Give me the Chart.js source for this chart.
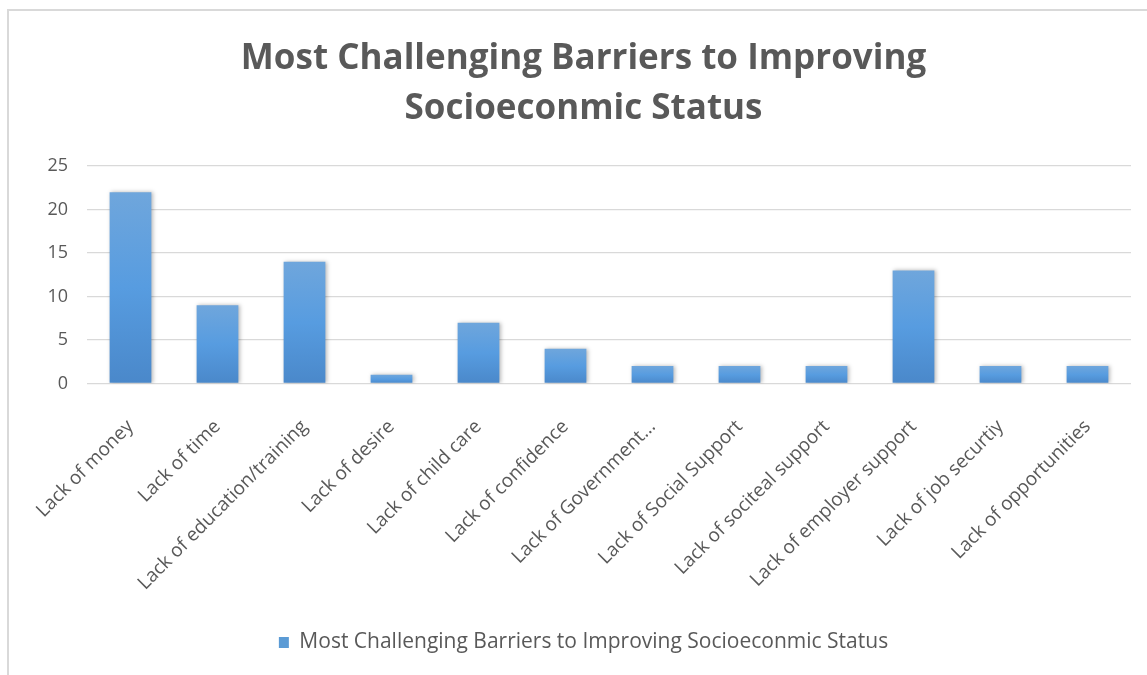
<!DOCTYPE html>
<html>
<head>
<meta charset="utf-8">
<script src="https://cdn.jsdelivr.net/npm/chart.js@4.4.1/dist/chart.umd.min.js"></script>
<style>
  html, body { margin: 0; padding: 0; background: #fff; }
  #wrap { position: relative; width: 1147px; height: 675px; overflow: hidden; }
  #frame { position: absolute; left: 7px; top: 9px; width: 1160px; height: 700px; border: 2px solid #d9d9d9; box-sizing: border-box; }
  canvas { position: absolute; left: 0; top: 0; }
</style>
</head>
<body>
<div id="wrap">
  <div id="frame"></div>
  <canvas id="c" width="1147" height="675"></canvas>
</div>
<script>
const titleLines = ["Most Challenging Barriers to Improving", "Socioeconmic Status"];
const seriesName = "Most Challenging Barriers to Improving Socioeconmic Status";
const categories = [
  "Lack of money",
  "Lack of time",
  "Lack of education/training",
  "Lack of desire",
  "Lack of child care",
  "Lack of confidence",
  "Lack of Government...",
  "Lack of Social Support",
  "Lack of sociteal support",
  "Lack of employer support",
  "Lack of job securtiy",
  "Lack of opportunities"
];
const values = [22, 9, 14, 1, 7, 4, 2, 2, 2, 13, 2, 2];
const yTicks = [0, 5, 10, 15, 20, 25];

const textColor = "#595959";
const gridColor = "#d9d9d9";

function barGradient(context) {
  const chart = context.chart;
  const area = chart.chartArea;
  if (!area || context.type !== "data") return "#5b9bd5";
  const yScale = chart.scales.y;
  const top = yScale.getPixelForValue(context.parsed.y);
  const bottom = yScale.getPixelForValue(0);
  if (!isFinite(top) || !isFinite(bottom) || top === bottom) return "#5b9bd5";
  const g = chart.ctx.createLinearGradient(0, top, 0, bottom);
  g.addColorStop(0, "#6fa6dc");
  g.addColorStop(0.5, "#579ce0");
  g.addColorStop(1, "#4a88ca");
  return g;
}

const shadowPlugin = {
  id: "barShadow",
  beforeDatasetsDraw(chart) {
    const ctx = chart.ctx;
    ctx.save();
    ctx.shadowColor = "rgba(0,0,0,0.28)";
    ctx.shadowBlur = 4;
    ctx.shadowOffsetX = 1.5;
    ctx.shadowOffsetY = 0;
  },
  afterDatasetsDraw(chart) {
    chart.ctx.restore();
  }
};

new Chart(document.getElementById("c"), {
  type: "bar",
  data: {
    labels: categories,
    datasets: [{
      label: seriesName,
      data: values,
      backgroundColor: barGradient,
      borderWidth: 0,
      categoryPercentage: 1,
      barPercentage: 0.48
    }]
  },
  plugins: [shadowPlugin],
  options: {
    responsive: false,
    animation: false,
    devicePixelRatio: 1,
    layout: { padding: { left: 36, right: 16, top: 10, bottom: 12 } },
    plugins: {
      title: {
        display: true,
        text: titleLines,
        color: textColor,
        font: { family: "'Open Sans', 'DejaVu Sans', sans-serif", size: 35, weight: "bold", lineHeight: 1.43 },
        padding: { top: 24, bottom: 32 }
      },
      legend: {
        display: true,
        position: "bottom",
        labels: {
          color: textColor,
          font: { family: "'Open Sans', sans-serif", size: 21 },
          boxWidth: 10,
          boxHeight: 11,
          padding: 8,
          generateLabels(chart) {
            return [{
              text: seriesName,
              fillStyle: "#5b9bd5",
              strokeStyle: "#5b9bd5",
              lineWidth: 0,
              fontColor: textColor,
              datasetIndex: 0
            }];
          }
        }
      },
      tooltip: { enabled: false }
    },
    scales: {
      x: {
        grid: { display: false, drawTicks: false },
        border: { display: false },
        ticks: {
          color: textColor,
          font: { family: "'Open Sans', sans-serif", size: 19 },
          maxRotation: 45,
          minRotation: 45,
          autoSkip: false,
          padding: 32
        },
        afterFit(scale) { scale.height = 240.5; }
      },
      y: {
        min: 0,
        max: 25,
        afterBuildTicks(scale) { scale.ticks = yTicks.map(v => ({ value: v })); },
        grid: { color: gridColor, lineWidth: 1.3, drawTicks: false },
        border: { display: false },
        ticks: {
          color: textColor,
          font: { family: "'Open Sans', sans-serif", size: 18 },
          padding: 19
        },
        afterFit(scale) { scale.width = 51; }
      }
    }
  }
});
</script>
</body>
</html>
